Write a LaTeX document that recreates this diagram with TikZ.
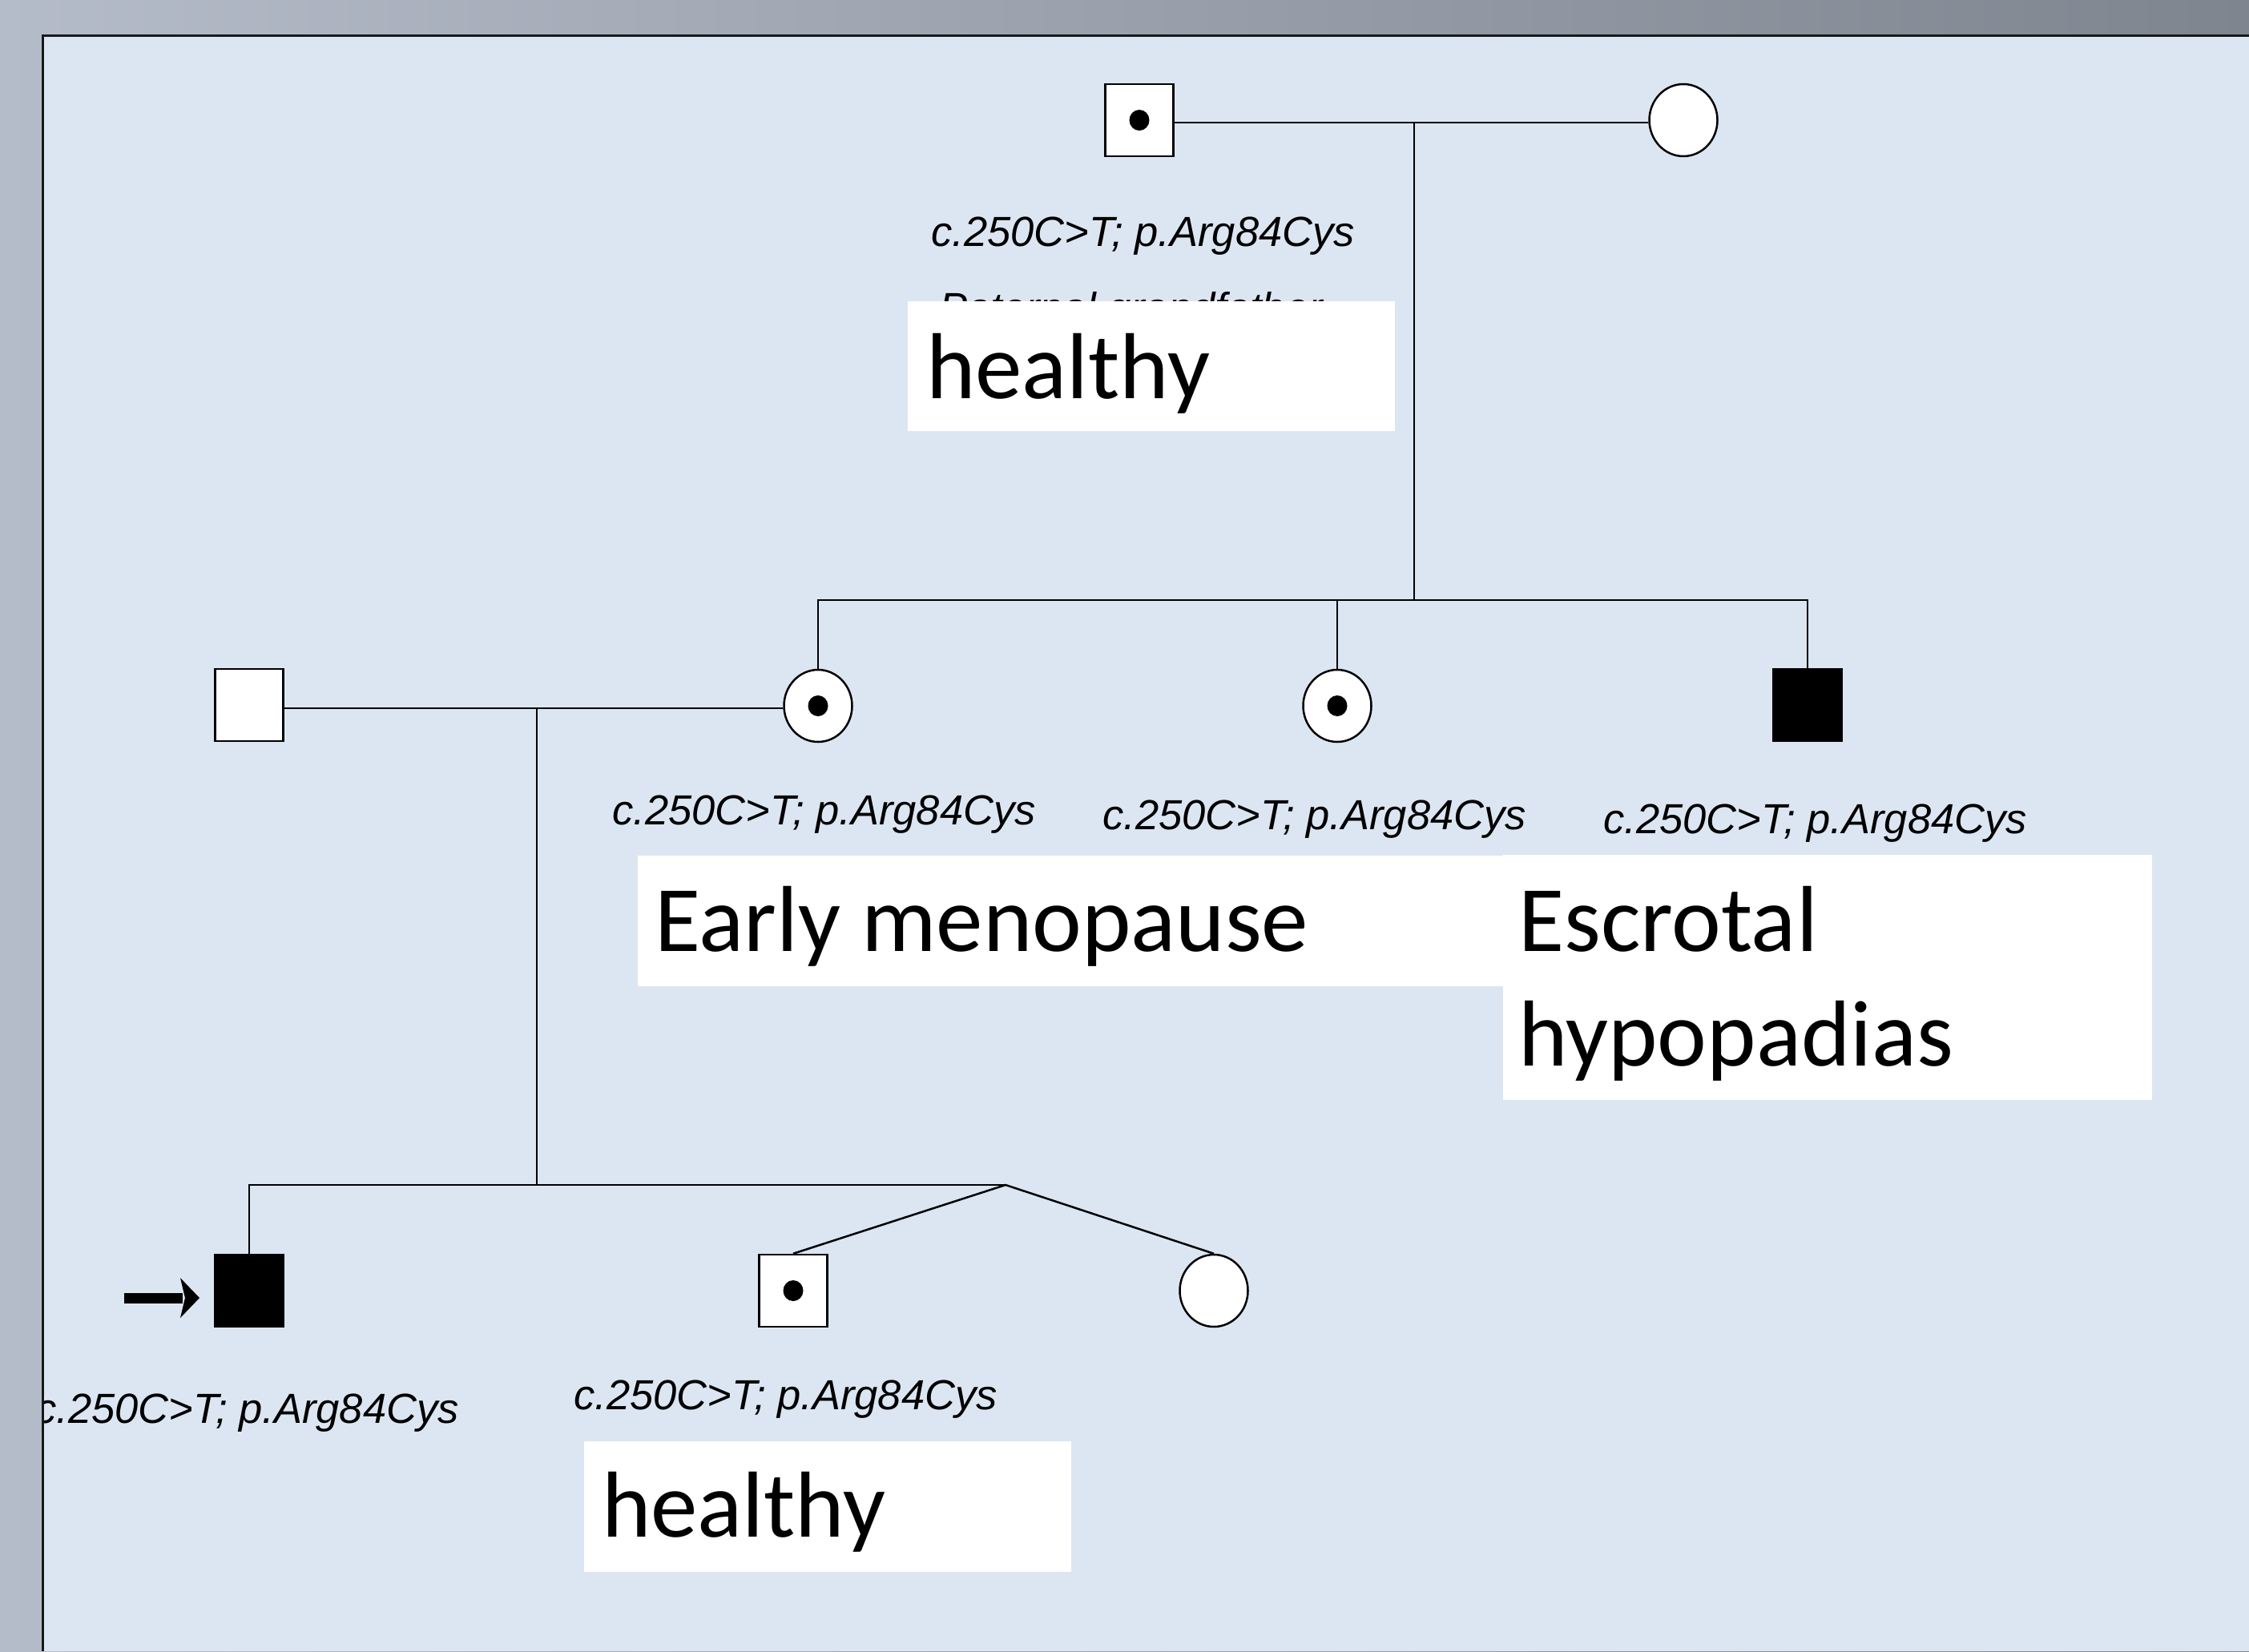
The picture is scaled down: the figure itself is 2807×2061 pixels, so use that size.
\documentclass[tikz,border=0pt]{standalone}
\usepackage{fontspec}
\setmainfont{Carlito}
\newfontfamily\arialf{Liberation Sans}
\usetikzlibrary{shapes.geometric}
\definecolor{panel}{HTML}{DCE6F2}
\definecolor{bgL}{RGB}{181,188,201}
\definecolor{bgR}{RGB}{126,133,143}
\definecolor{edge}{RGB}{25,25,25}
\tikzset{
  ind/.style={draw=black, line width=2.5pt, fill=white, inner sep=0pt,
              minimum width=85pt, minimum height=90pt},
  male/.style={ind, rectangle},
  female/.style={ind, ellipse},
  affected/.style={fill=black},
  dotmark/.style={ellipse, fill=black, inner sep=0pt, minimum width=25pt, minimum height=26pt},
  conn/.style={line width=2.5pt},
  desc/.style={line width=2pt},
  mut/.style={font=\arialf\itshape\fontsize{52.5}{60}\selectfont, anchor=base west, inner sep=0pt},
  big/.style={font=\fontsize{117}{143}\selectfont, anchor=base west, inner sep=0pt},
  whitebox/.style={fill=white},
}
\begin{document}
\begin{tikzpicture}[x=1pt, y=-1pt]
\useasboundingbox (0,0) rectangle (2807,2061);
\shade[left color=bgL, right color=bgR] (0,0) rectangle (2807,2061);
\fill[panel] (53,44) rectangle (2807,2061);

\begin{scope}
\clip (54,45) rectangle (2807,2061);

% individuals
\node[male]   (I1)  at (1422,150) {};
\node[dotmark] (I1d) at (I1.center) {};
\node[female] (I2)  at (2101,150) {};

\node[male]   (II1) at (311,880) {};
\node[female] (II2) at (1021,881) {};
\node[dotmark] (II2d) at (II2.center) {};
\node[female] (II3) at (1669,881) {};
\node[dotmark] (II3d) at (II3.center) {};
\node[male, affected] (II4) at (2256,880) {};

\node[male, affected] (III1) at (311,1611) {};
\node[male]   (III2) at (990,1611) {};
\node[dotmark] (III2d) at (III2.center) {};
\node[female] (III3) at (1515,1611) {};

% junction points
\coordinate (m1) at (1765,153);
\coordinate (s1) at (1765,749);
\coordinate (m2) at (670,884);
\coordinate (s2) at (670,1479);
\coordinate (tw) at (1255,1479);

% connectors
\draw[conn] (I1.east |- m1) -- (I2.west |- m1);
\draw[desc] (m1) -- (s1);
\draw[desc] (II2.north) |- (s1) -| (II4.north);
\draw[desc] (II3.north) -- (II3.north |- s1);
\draw[conn] (II1.east |- m2) -- (II2.west |- m2);
\draw[desc] (m2) -- (s2);
\draw[desc] (III1.north) |- (tw);
\draw[conn] (III2.north) -- (tw) -- (III3.north);

% proband arrow
\coordinate (arrtail) at (155,1620);
\coordinate (arrtip) at (249,1620);
\draw[line width=13pt] (arrtail) -- ([xshift=-21pt]arrtip);
\fill (arrtip) -- ++(-24,-25) -- ++(6,25) -- ++(-6,25) -- cycle;

% mutation labels
\node[mut] (L1) at (1162,307) {c.250C>T; p.Arg84Cys};
\node[mut] (hid) at (1172,402) {Paternal grandfather};
\node[mut] (L2) at (764,1029) {c.250C>T; p.Arg84Cys};
\node[mut] (L3) at (1376,1035) {c.250C>T; p.Arg84Cys};
\node[mut] (L4) at (2001,1040) {c.250C>T; p.Arg84Cys};
\node[mut] (L5) at (44,1776) {c.250C>T; p.Arg84Cys};
\node[mut] (L6) at (716,1759) {c.250C>T; p.Arg84Cys};

% white boxes
\fill[whitebox] (1133,376) rectangle (1741,538);
\fill[whitebox] (796,1068) rectangle (1876,1231);
\fill[whitebox] (1876,1067) rectangle (2686,1373);
\fill[whitebox] (729,1799) rectangle (1337,1962);

% phenotype texts
\node[big] (H1) at (1156,497) {healthy};
\node[big] (EM) at (817,1187) {Early menopause};
\node[big] (ES) at (1895,1187) {Escrotal};
\node[big] (HY) at (1895,1330) {hypopadias};
\node[big] (H2) at (751,1918) {healthy};
\end{scope}

% panel edge
\draw[edge, line width=3pt] (53,2061) -- (53,44) -- (2807,44);
\end{tikzpicture}
\end{document}
